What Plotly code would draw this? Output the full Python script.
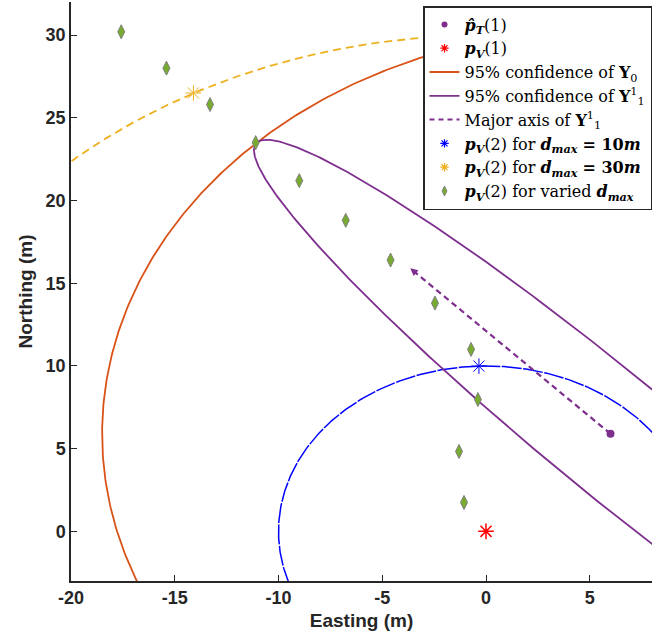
import numpy as np
import plotly.graph_objects as go

# ---- data ----
pT1 = [6.0, 5.9]                       # estimated target position p_T(1)
pV1 = [0.0, 0.0]                       # vehicle position p_V(1)
y0_radius = 24.5                       # 95% confidence of Y0 (circle about pT1)
y1_semi_major = 24.5                   # 95% confidence of Y1^1
y1_semi_minor = 3.3
y1_angle_deg = 134.0
major_axis_end = [-3.65, 15.9]         # tip of major-axis arrow
dmax_small = 10.0
dmax_large = 30.0
pV2_d10 = [-0.34, 9.99]
pV2_d30 = [-14.1, 26.5]
varied_x = [-17.58, -15.4, -13.3, -11.1, -9.0, -6.76, -4.6, -2.46, -0.72, -0.39, -1.3, -1.06]
varied_y = [30.2, 28.0, 25.8, 23.5, 21.2, 18.8, 16.4, 13.8, 11.0, 7.97, 4.83, 1.75]
x_ticks = [-20, -15, -10, -5, 0, 5]
y_ticks = [0, 5, 10, 15, 20, 25, 30]

C_ORANGE = "#D95319"
C_PURPLE = "#7E2F8E"
C_YELLOW = "#EDB120"
C_GREEN = "#77AC30"
C_BLUE = "#0000FF"
C_RED = "#FF0000"
AX = "#262626"

L_PT1 = "<b><i>p̂</i></b><sub><b><i>T</i></b></sub>(1)"
L_PV1 = "<b><i>p</i></b><sub><b><i>V</i></b></sub>(1)"
L_Y0 = "95% confidence of <b>Y</b><sub>0</sub>"
L_Y1 = "95% confidence of <b>Y</b><sup>1</sup><sub>1</sub>"
L_MAJ = "Major axis of <b>Y</b><sup>1</sup><sub>1</sub>"
L_D10 = "<b><i>p</i></b><sub><b><i>V</i></b></sub>(2) for <b><i>d</i></b><sub><b><i>max</i></b></sub> <b>= 10<i>m</i></b>"
L_D30 = "<b><i>p</i></b><sub><b><i>V</i></b></sub>(2) for <b><i>d</i></b><sub><b><i>max</i></b></sub> <b>= 30<i>m</i></b>"
L_VAR = "<b><i>p</i></b><sub><b><i>V</i></b></sub>(2) for varied <b><i>d</i></b><sub><b><i>max</i></b></sub>"

t = np.linspace(0, 2 * np.pi, 721)


def circle(c, r):
    return c[0] + r * np.cos(t), c[1] + r * np.sin(t)


def ellipse(c, a, b, ang):
    th = np.deg2rad(ang)
    ex, ey = a * np.cos(t), b * np.sin(t)
    return c[0] + ex * np.cos(th) - ey * np.sin(th), c[1] + ex * np.sin(th) + ey * np.cos(th)


fig = go.Figure()

# ---- plotted marks ----
bx, by = circle(pV1, dmax_small)
fig.add_trace(go.Scatter(x=bx, y=by, mode="lines", line=dict(color=C_BLUE, width=1.5, dash="20px,1.5px"),
                         showlegend=False, hoverinfo="skip"))
yx, yy = circle(pV1, dmax_large)
fig.add_trace(go.Scatter(x=yx, y=yy, mode="lines", line=dict(color=C_YELLOW, width=1.8, dash="8px,5px"),
                         showlegend=False, hoverinfo="skip"))
ox, oy = circle(pT1, y0_radius)
fig.add_trace(go.Scatter(x=ox, y=oy, mode="lines", line=dict(color=C_ORANGE, width=1.8), showlegend=False))
ex, ey = ellipse(pT1, y1_semi_major, y1_semi_minor, y1_angle_deg)
fig.add_trace(go.Scatter(x=ex, y=ey, mode="lines", line=dict(color=C_PURPLE, width=1.8), showlegend=False))
fig.add_trace(go.Scatter(x=[pT1[0], major_axis_end[0]], y=[pT1[1], major_axis_end[1]], mode="lines",
                         line=dict(color=C_PURPLE, width=2.2, dash="6px,4px"), showlegend=False))
fig.add_trace(go.Scatter(x=[pT1[0]], y=[pT1[1]], mode="markers",
                         marker=dict(symbol="circle", size=8, color=C_PURPLE), showlegend=False))
fig.add_trace(go.Scatter(x=[pV1[0]], y=[pV1[1]], mode="markers",
                         marker=dict(symbol="asterisk-open", size=13, color=C_RED, line=dict(color=C_RED, width=1.5)),
                         showlegend=False))
fig.add_trace(go.Scatter(x=[pV2_d10[0]], y=[pV2_d10[1]], mode="markers",
                         marker=dict(symbol="asterisk-open", size=13, color=C_BLUE, line=dict(color=C_BLUE, width=1)),
                         showlegend=False))
fig.add_trace(go.Scatter(x=[pV2_d30[0]], y=[pV2_d30[1]], mode="markers",
                         marker=dict(symbol="asterisk-open", size=13, color=C_YELLOW, line=dict(color=C_YELLOW, width=1)),
                         showlegend=False))
fig.add_trace(go.Scatter(x=varied_x, y=varied_y, mode="markers",
                         marker=dict(symbol="diamond-tall", size=10, color=C_GREEN,
                                     line=dict(color="#7f7f7f", width=1)), showlegend=False))

# ---- legend entries (small symbols as in the reference) ----
def proxy(name, **kw):
    fig.add_trace(go.Scatter(x=[None], y=[None], name=name, **kw))


proxy(L_PT1, mode="markers", marker=dict(symbol="circle", size=6, color=C_PURPLE))
proxy(L_PV1, mode="markers", marker=dict(symbol="asterisk-open", size=7, color=C_RED, line=dict(color=C_RED, width=1.2)))
proxy(L_Y0, mode="lines", line=dict(color=C_ORANGE, width=1.8))
proxy(L_Y1, mode="lines", line=dict(color=C_PURPLE, width=1.8))
proxy(L_MAJ, mode="lines", line=dict(color=C_PURPLE, width=2, dash="5px,4px"))
proxy(L_D10, mode="markers", marker=dict(symbol="asterisk-open", size=7, color=C_BLUE, line=dict(color=C_BLUE, width=1.2)))
proxy(L_D30, mode="markers", marker=dict(symbol="asterisk-open", size=7, color=C_YELLOW, line=dict(color=C_YELLOW, width=1.2)))
proxy(L_VAR, mode="markers", marker=dict(symbol="diamond-tall", size=7, color=C_GREEN, line=dict(color="#7f7f7f", width=1)))

# arrowhead at the end of the major axis
dx = major_axis_end[0] - pT1[0]
dy = major_axis_end[1] - pT1[1]
fig.add_annotation(x=major_axis_end[0], y=major_axis_end[1], ax=major_axis_end[0] - 0.04 * dx,
                   ay=major_axis_end[1] - 0.04 * dy, xref="x", yref="y", axref="x", ayref="y",
                   text="", showarrow=True, arrowhead=2, arrowsize=1, arrowwidth=1.5, arrowcolor=C_PURPLE)

fig.update_layout(
    width=665, height=639,
    margin=dict(l=71, r=13, t=2, b=58),
    paper_bgcolor="white", plot_bgcolor="white",
    showlegend=True,
    legend=dict(x=1, xanchor="right", y=1 - 4 / 579, yanchor="top",
                bgcolor="white", bordercolor=AX, borderwidth=1.5,
                font=dict(family="DejaVu Serif", size=16, color="black"),
                tracegroupgap=0, itemwidth=30),
    font=dict(family="Liberation Sans", color=AX),
)
fig.update_xaxes(range=[-20, 8], tickvals=x_ticks, ticktext=[str(v) for v in x_ticks],
                 showline=True, linecolor=AX, linewidth=1.5, ticks="inside", ticklen=6, tickcolor=AX,
                 tickwidth=1.2, showgrid=False, zeroline=False, mirror=False,
                 tickfont=dict(family="Liberation Sans", size=18, color=AX, weight="bold"),
                 title=dict(text="Easting (m)", standoff=6,
                            font=dict(family="Liberation Sans", size=19, color=AX, weight="bold")))
fig.update_yaxes(range=[-3, 32], tickvals=y_ticks, ticktext=[str(v) for v in y_ticks],
                 showline=True, linecolor=AX, linewidth=1.5, ticks="inside", ticklen=6, tickcolor=AX,
                 tickwidth=1.2, showgrid=False, zeroline=False, mirror=False,
                 tickfont=dict(family="Liberation Sans", size=18, color=AX, weight="bold"),
                 title=dict(text="Northing (m)", standoff=8,
                            font=dict(family="Liberation Sans", size=19, color=AX, weight="bold")))

fig.write_html("out.html")
